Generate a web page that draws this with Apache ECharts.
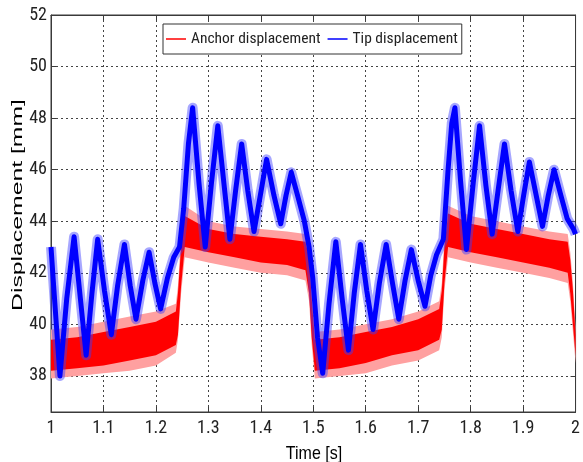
<!DOCTYPE html>
<html>
<head>
<meta charset="utf-8">
<script src="https://cdn.jsdelivr.net/npm/echarts@6/dist/echarts.min.js"></script>
<style>
html,body{margin:0;padding:0;background:#fff;}
#c{width:583px;height:462px;}
</style>
</head>
<body>
<div id="c"></div>
<script>
// ---- data ----
const xTicks = [1, 1.1, 1.2, 1.3, 1.4, 1.5, 1.6, 1.7, 1.8, 1.9, 2];
const yTicks = [38, 40, 42, 44, 46, 48, 50, 52];
const xTitle = 'Time [s]';
const yTitle = 'Displacement [mm]';

// Anchor displacement (noisy band): time, dense core band and light fringe band
const redT = [1.000,1.05,1.10,1.15,1.20,1.238,1.242,1.248,1.255,1.30,1.35,1.40,1.45,1.485,1.492,1.497,1.503,1.55,1.60,1.65,1.70,1.740,1.745,1.750,1.757,1.80,1.85,1.90,1.95,1.985,1.990,1.995,2.000];
const redCoreLow =  [38.2,38.3,38.4,38.6,38.8,39.2,39.6,41.5,43.0,42.8,42.6,42.4,42.3,42.1,41.2,39.5,38.2,38.3,38.5,38.8,39.0,39.4,39.8,41.6,43.0,42.8,42.6,42.4,42.2,42.0,41.2,40.0,38.8];
const redCoreHigh = [39.4,39.5,39.7,39.9,40.1,40.5,41.2,43.0,44.2,43.7,43.5,43.4,43.3,43.2,42.6,41.0,39.4,39.5,39.7,39.9,40.2,40.6,41.3,43.0,44.3,43.9,43.7,43.5,43.3,43.2,42.5,41.3,39.6];
const redFringeLow =  [37.9,38.0,38.1,38.2,38.4,38.9,39.4,41.2,42.6,42.4,42.2,42.0,41.9,41.7,40.9,39.2,37.9,38.0,38.1,38.4,38.6,39.0,39.5,41.3,42.6,42.4,42.2,42.0,41.8,41.6,40.9,39.7,38.5];
const redFringeHigh = [39.8,39.9,40.1,40.3,40.5,40.8,41.5,43.4,44.6,44.0,43.8,43.7,43.6,43.5,42.9,41.3,39.7,39.8,40.0,40.2,40.5,40.9,41.6,43.4,44.6,44.2,44.0,43.8,43.6,43.5,42.8,41.6,39.9];

// Tip displacement (oscillating): time and value at peaks, valleys and mid-slopes
const blueT = [1.000,1.005,1.017,1.030,1.044,1.056,1.067,1.078,1.089,1.102,1.115,1.127,1.140,1.151,1.162,1.175,1.187,1.198,1.209,1.222,1.234,1.245,1.253,1.262,1.270,1.282,1.294,1.306,1.318,1.330,1.341,1.352,1.3635,1.375,1.387,1.399,1.411,1.425,1.438,1.448,1.458,1.470,1.483,1.492,1.499,1.508,1.518,1.530,1.543,1.555,1.567,1.578,1.590,1.602,1.614,1.626,1.639,1.651,1.663,1.675,1.687,1.700,1.713,1.724,1.735,1.748,1.757,1.764,1.770,1.781,1.792,1.805,1.817,1.829,1.841,1.853,1.8645,1.877,1.890,1.901,1.912,1.925,1.937,1.948,1.959,1.972,1.984,1.996,2.000];
const blueV = [43.0,41.5,38.0,41.0,43.4,41.0,38.8,41.2,43.3,41.3,39.6,41.5,43.1,41.5,40.2,41.7,42.8,41.6,40.6,41.8,42.6,43.0,44.5,47.0,48.4,45.5,43.0,45.5,47.7,45.4,43.3,45.2,47.0,45.2,43.6,45.0,46.4,45.0,43.9,45.0,45.9,45.0,44.0,43.0,41.8,39.5,38.1,40.8,43.2,41.0,39.0,41.2,43.1,41.3,39.8,41.6,43.1,41.6,40.2,41.7,42.9,41.7,40.7,41.9,42.7,43.3,46.0,47.8,48.4,45.5,42.9,45.5,47.7,45.4,43.5,45.3,47.0,45.2,43.6,45.0,46.3,45.0,43.8,45.0,46.0,45.0,44.1,43.7,43.5];

// ---- font detection (narrow font if installed) ----
function hasFont(name) {
  const ctx = document.createElement('canvas').getContext('2d');
  const s = 'Anchor displacement 0123456789';
  for (const fb of ['monospace', 'serif']) {
    ctx.font = '30px ' + fb; const a = ctx.measureText(s).width;
    ctx.font = "30px '" + name + "', " + fb; const b = ctx.measureText(s).width;
    if (Math.abs(a - b) > 0.5) return true;
  }
  return false;
}
let NARROW = null;
for (const n of ['Liberation Sans Narrow', 'Arial Narrow', 'Roboto Condensed', 'DejaVu Sans Condensed', 'Noto Sans Condensed']) {
  if (hasFont(n)) { NARROW = n; break; }
}
const BASE = "'Liberation Sans',Arial,sans-serif";
const FONT = NARROW ? "'" + NARROW + "'," + BASE : BASE;
const tickSize = NARROW ? 18 : 16;
const legendSize = NARROW ? 15.5 : 14;
const AX = '#3a3a3a';

// ---- band drawing through the axes ----
function bandSeries(name, lo, hi, fill) {
  return {
    name: name, type: 'custom', silent: true,
    data: redT.map((t, i) => [t, lo[i], hi[i]]),
    encode: {x: 0, y: [1, 2]},
    renderItem: function (params, api) {
      if (params.dataIndex !== 0) return null;
      const pts = [];
      for (let i = 0; i < redT.length; i++) pts.push(api.coord([redT[i], hi[i]]));
      for (let i = redT.length - 1; i >= 0; i--) pts.push(api.coord([redT[i], lo[i]]));
      return {type: 'polygon', shape: {points: pts}, style: {fill: fill, stroke: null}};
    },
    itemStyle: {color: fill}
  };
}

const chart = echarts.init(document.getElementById('c'), null, {renderer: 'canvas'});
chart.setOption({
  animation: false,
  backgroundColor: '#fff',
  grid: {left: 51, right: 3.5, top: 15, bottom: 50, show: true, borderColor: AX, borderWidth: 1, backgroundColor: '#fff'},
  legend: {
    left: 163, top: 24,
    data: [
      {name: 'Anchor displacement', icon: 'rect', itemStyle: {color: '#ff0000'}},
      {name: 'Tip displacement', icon: 'rect', itemStyle: {color: '#0000ff'}}
    ],
    itemWidth: 20, itemHeight: 1.5, itemGap: 7,
    padding: [7, 4, 7, 3],
    borderColor: '#333', borderWidth: 1, backgroundColor: '#fff',
    textStyle: {fontFamily: FONT, fontSize: legendSize, color: '#222'}
  },
  graphic: [
    {type: 'text', x: 18, y: 205, rotation: Math.PI / 2, scaleX: 1.65, scaleY: 1, z: 10,
      style: {text: yTitle, font: "15px " + BASE, fill: '#000', align: 'center', verticalAlign: 'middle'}},
    {type: 'text', x: 314, y: 454, scaleX: 1, scaleY: 1.12, z: 10,
      style: {text: xTitle, font: "16px " + BASE, fill: '#000', align: 'center', verticalAlign: 'middle'}}
  ],
  xAxis: [{
    type: 'value', min: 1, max: 2, interval: 0.1,
    axisLine: {show: true, lineStyle: {color: AX}},
    axisTick: {inside: true, length: 5, lineStyle: {color: AX}},
    axisLabel: {fontFamily: FONT, fontSize: tickSize, color: '#222', margin: 7},
    splitLine: {show: true, lineStyle: {color: '#444', type: [2, 3], width: 1}}
  }, {
    type: 'value', min: 1, max: 2, interval: 0.1, position: 'top',
    axisLine: {show: true, lineStyle: {color: AX}},
    axisTick: {inside: true, length: 5, lineStyle: {color: AX}},
    axisLabel: {show: false}, splitLine: {show: false}
  }],
  yAxis: [{
    type: 'value', min: 36.6, max: 52,
    axisLine: {show: true, lineStyle: {color: AX}},
    axisTick: {inside: true, length: 5, customValues: yTicks, lineStyle: {color: AX}},
    axisLabel: {fontFamily: FONT, fontSize: tickSize, color: '#222', margin: 4, customValues: yTicks},
    splitLine: {show: true, lineStyle: {color: '#444', type: [2, 3], width: 1}}
  }, {
    type: 'value', min: 36.6, max: 52, position: 'right',
    axisLine: {show: true, lineStyle: {color: AX}},
    axisTick: {inside: true, length: 5, customValues: yTicks, lineStyle: {color: AX}},
    axisLabel: {show: false, customValues: yTicks}, splitLine: {show: false}
  }],
  series: [
    bandSeries('anchorFringe', redFringeLow, redFringeHigh, '#ffa0a0'),
    bandSeries('Anchor displacement', redCoreLow, redCoreHigh, '#ff0000'),
    {name: 'tipFringe', type: 'line', data: blueT.map((t, i) => [t, blueV[i]]), showSymbol: false, silent: true,
      lineStyle: {color: 'rgba(60,60,255,0.45)', width: 10, join: 'round'}},
    {name: 'Tip displacement', type: 'line', data: blueT.map((t, i) => [t, blueV[i]]), showSymbol: false, color: '#0000ff',
      lineStyle: {color: '#0000ff', width: 5, join: 'round'}}
  ]
});
</script>
</body>
</html>
